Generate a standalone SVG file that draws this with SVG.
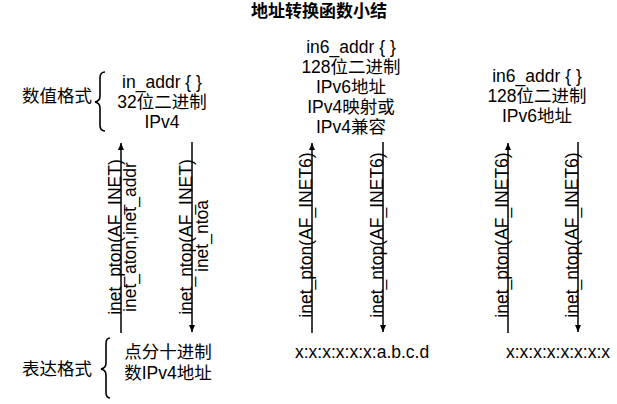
<svg xmlns="http://www.w3.org/2000/svg" width="617" height="404" viewBox="0 0 617 404">
<style>
text{font-family:"Liberation Sans","Noto Sans CJK SC",sans-serif;font-size:17.5px;fill:#000}
.t{font-size:17px;font-weight:bold}
.m{text-anchor:middle}
.e{text-anchor:end}
.ln{stroke:#000;stroke-width:1.5;fill:none}
.br{stroke:#000;stroke-width:1.6;fill:none}
</style>
<defs>
<marker id="ah" markerWidth="8" markerHeight="8" refX="7" refY="4" orient="auto" markerUnits="userSpaceOnUse">
<path d="M0,1 L7,4 L0,7 Z" fill="#000"/>
</marker>
</defs>
<rect width="617" height="404" fill="#fff"/>
<text class="t m" x="319" y="17">地址转换函数小结</text>

<g id="label-numeric">
<text class="e" x="92" y="102">数值格式</text>
<path class="br" d="M105,72 Q100,72 100,78 L100,96 Q100,101 95,102 Q100,103 100,108 L100,125 Q100,131 105,131"/>
</g>
<g id="label-present">
<text class="e" x="92" y="375">表达格式</text>
<path class="br" d="M110,338 Q106,338 106,344 L106,363 Q106,368 101,369 Q106,370 106,375 L106,392 Q106,398 110,398"/>
</g>

<g id="node-in-addr">
<text class="m" x="162" y="88">in_addr { }</text>
<text class="m" x="162" y="108">32位二进制</text>
<text class="m" x="162" y="128">IPv4</text>
</g>
<g id="node-in6-addr-a">
<text class="m" x="351" y="53">in6_addr { }</text>
<text class="m" x="351" y="73">128位二进制</text>
<text class="m" x="351" y="93">IPv6地址</text>
<text class="m" x="351" y="113">IPv4映射或</text>
<text class="m" x="351" y="133">IPv4兼容</text>
</g>
<g id="node-in6-addr-b">
<text class="m" x="537" y="82">in6_addr { }</text>
<text class="m" x="537" y="102">128位二进制</text>
<text class="m" x="537" y="122">IPv6地址</text>
</g>

<g id="node-dotted">
<text class="m" x="168" y="358">点分十进制</text>
<text class="m" x="168" y="379">数IPv4地址</text>
</g>
<g id="node-v4mapped-text">
<text x="295" y="358">x:x:x:x:x:x:a.b.c.d</text>
</g>
<g id="node-v6-text">
<text x="506" y="358">x:x:x:x:x:x:x:x</text>
</g>

<g id="connectors">
<line class="ln" x1="121" y1="333" x2="121" y2="143" marker-end="url(#ah)"/>
<line class="ln" x1="192" y1="142" x2="192" y2="332" marker-end="url(#ah)"/>
<line class="ln" x1="312" y1="333" x2="312" y2="143" marker-end="url(#ah)"/>
<line class="ln" x1="383" y1="142" x2="383" y2="332" marker-end="url(#ah)"/>
<line class="ln" x1="508" y1="333" x2="508" y2="143" marker-end="url(#ah)"/>
<line class="ln" x1="578" y1="142" x2="578" y2="332" marker-end="url(#ah)"/>

<text class="m" transform="translate(120.5,237) rotate(-90)">inet_pton(AF_INET)</text>
<text class="m" transform="translate(136,237) rotate(-90)">inet_aton,inet_addr</text>
<text class="m" transform="translate(191.5,237) rotate(-90)">inet_ntop(AF_INET)</text>
<text class="m" transform="translate(208,236) rotate(-90)">inet_ntoa</text>
<text class="m" transform="translate(311.5,235) rotate(-90)">inet_pton(AF_INET6)</text>
<text class="m" transform="translate(382.5,235) rotate(-90)">inet_ntop(AF_INET6)</text>
<text class="m" transform="translate(507.5,235) rotate(-90)">inet_pton(AF_INET6)</text>
<text class="m" transform="translate(577.5,235) rotate(-90)">inet_ntop(AF_INET6)</text>
</g>
</svg>
